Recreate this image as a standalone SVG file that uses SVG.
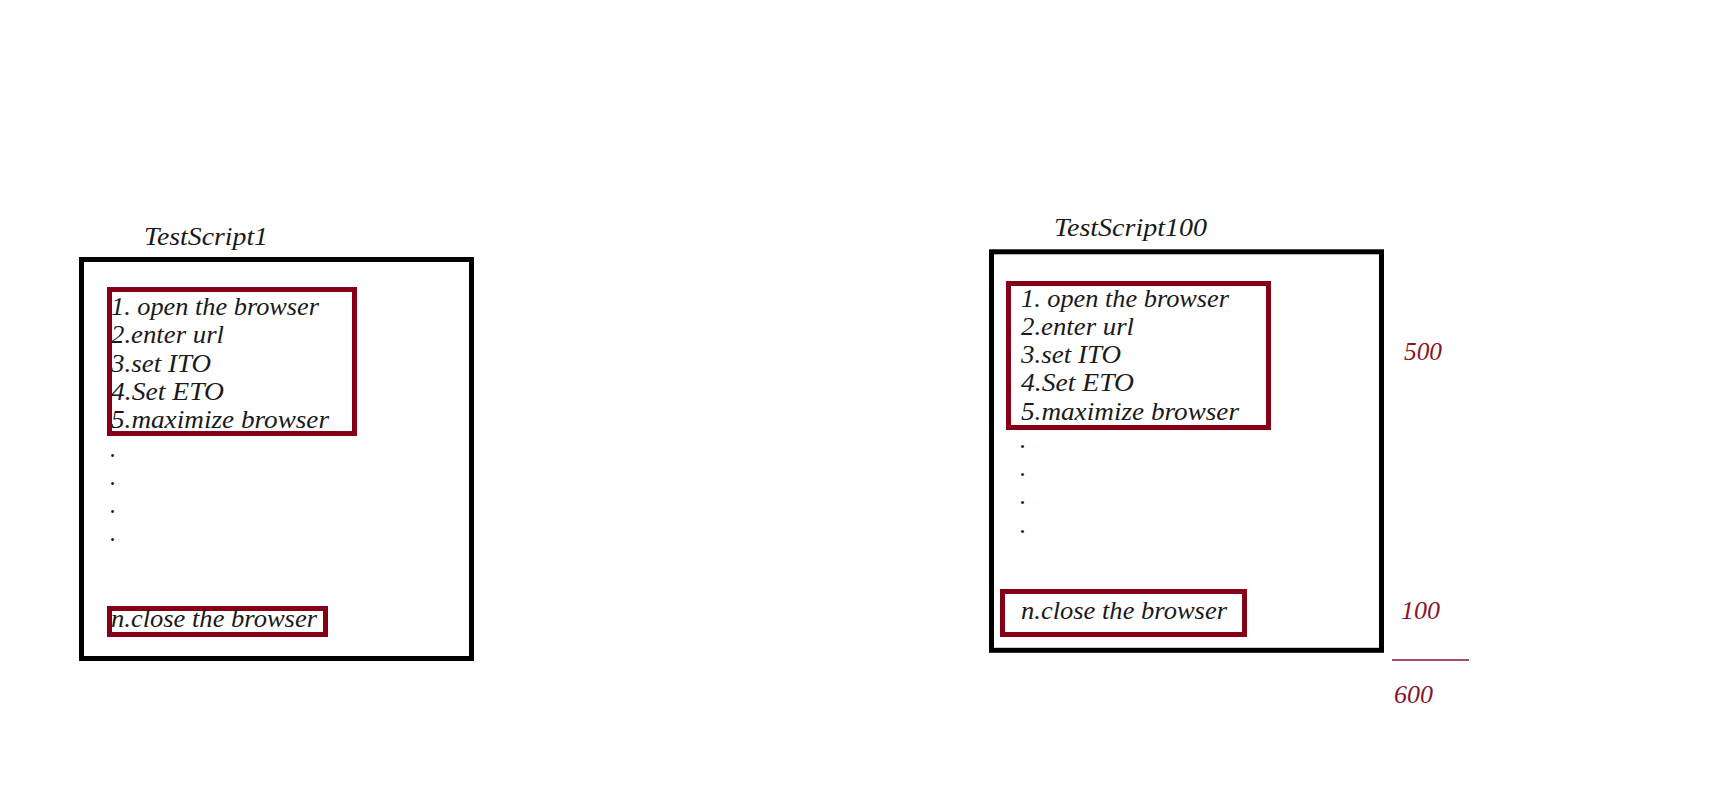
<svg xmlns="http://www.w3.org/2000/svg" width="1712" height="798" viewBox="0 0 1712 798">
<style>
.t{font-family:"Liberation Serif","Times New Roman",serif;font-style:italic;font-size:25px;fill:#1a1a1a}
.r{font-family:"Liberation Serif","Times New Roman",serif;font-style:italic;font-size:25px;fill:#8a1528}
.outer{fill:none;stroke:#000;stroke-width:5}
.red{fill:none;stroke:#850017;stroke-width:5}
</style>
<rect width="1712" height="798" fill="#fff"/>
<g id="script1">
<text class="t" x="144" y="245" textLength="124" lengthAdjust="spacingAndGlyphs">TestScript1</text>
<rect class="outer" x="81.5" y="259.5" width="390" height="399"/>
</g>
<g id="steps1">
<rect class="red" x="109.5" y="289.5" width="245" height="144"/>
<text class="t" x="111" y="315" textLength="208" lengthAdjust="spacingAndGlyphs">1. open the browser</text>
<text class="t" x="111" y="343" textLength="113" lengthAdjust="spacingAndGlyphs">2.enter url</text>
<text class="t" x="111" y="372" textLength="100" lengthAdjust="spacingAndGlyphs">3.set ITO</text>
<text class="t" x="111" y="400" textLength="113" lengthAdjust="spacingAndGlyphs">4.Set ETO</text>
<text class="t" x="111" y="428" textLength="218" lengthAdjust="spacingAndGlyphs">5.maximize browser</text>
<text class="t" x="110" y="457">.</text>
<text class="t" x="110" y="485">.</text>
<text class="t" x="110" y="513">.</text>
<text class="t" x="110" y="541">.</text>
</g>
<g id="close1">
<rect class="red" x="109.5" y="608.5" width="216" height="26"/>
<text class="t" x="111" y="627" textLength="206" lengthAdjust="spacingAndGlyphs">n.close the browser</text>
</g>
<g id="script100">
<text class="t" x="1054" y="236" textLength="153" lengthAdjust="spacingAndGlyphs">TestScript100</text>
<rect class="outer" x="991.5" y="251.8" width="390" height="398.5"/>
</g>
<g id="steps100">
<rect class="red" x="1008.5" y="283.5" width="260" height="144"/>
<text class="t" x="1021" y="307" textLength="208" lengthAdjust="spacingAndGlyphs">1. open the browser</text>
<text class="t" x="1021" y="335" textLength="113" lengthAdjust="spacingAndGlyphs">2.enter url</text>
<text class="t" x="1021" y="363" textLength="100" lengthAdjust="spacingAndGlyphs">3.set ITO</text>
<text class="t" x="1021" y="391" textLength="113" lengthAdjust="spacingAndGlyphs">4.Set ETO</text>
<text class="t" x="1021" y="420" textLength="218" lengthAdjust="spacingAndGlyphs">5.maximize browser</text>
<text class="t" x="1020" y="448">.</text>
<text class="t" x="1020" y="476">.</text>
<text class="t" x="1020" y="504">.</text>
<text class="t" x="1020" y="533">.</text>
</g>
<g id="close100">
<rect class="red" x="1002.5" y="591.5" width="242" height="43"/>
<text class="t" x="1021" y="619" textLength="206" lengthAdjust="spacingAndGlyphs">n.close the browser</text>
</g>
<g id="totals">
<text class="r" x="1404" y="360" textLength="38" lengthAdjust="spacingAndGlyphs">500</text>
<text class="r" x="1401" y="619" textLength="39" lengthAdjust="spacingAndGlyphs">100</text>
<line x1="1392" y1="660" x2="1469" y2="660" stroke="#8a1528" stroke-width="1.5"/>
<text class="r" x="1394" y="703" textLength="39" lengthAdjust="spacingAndGlyphs">600</text>
</g>
</svg>
